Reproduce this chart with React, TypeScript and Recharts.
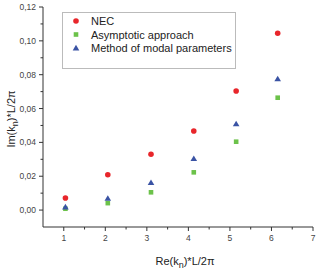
import React from 'react';
import { ScatterChart, Scatter, XAxis, YAxis } from 'recharts';

const reValues = [1.04, 2.06, 3.1, 4.13, 5.15, 6.15];
const necValues = [0.0071, 0.0209, 0.033, 0.0467, 0.0704, 0.1045];
const asymptoticValues = [0.0008, 0.0041, 0.0105, 0.0223, 0.0404, 0.0664];
const modalValues = [0.0018, 0.0069, 0.0162, 0.0304, 0.0509, 0.0775];

const xTicks = [0.5, 1, 1.5, 2, 2.5, 3, 3.5, 4, 4.5, 5, 5.5, 6, 6.5, 7];
const yTicks = [-0.01, 0, 0.01, 0.02, 0.03, 0.04, 0.05, 0.06, 0.07, 0.08, 0.09, 0.1, 0.11, 0.12];

const RED = '#e8262b';
const GREEN = '#6cc24a';
const BLUE = '#3a53a4';
const FONT = '"Liberation Sans", Arial, sans-serif';

const toPoints = (ys: number[]) => reValues.map((x, i) => ({ x, y: ys[i] }));

const Circle = (p: any) => <circle cx={p.cx} cy={p.cy} r={2.8} fill={RED} />;
const Square = (p: any) => <rect x={p.cx - 2.3} y={p.cy - 2.3} width={4.6} height={4.6} fill={GREEN} />;
const Triangle = (p: any) => (
  <polygon points={`${p.cx},${p.cy - 3.2} ${p.cx + 3.3},${p.cy + 2.4} ${p.cx - 3.3},${p.cy + 2.4}`} fill={BLUE} />
);

const XTick = (props: any) => {
  const { x, y, payload } = props;
  const v = payload.value;
  const major = Math.abs(v - Math.round(v)) < 1e-6;
  if (v === 0.5) return <g />;
  return (
    <g>
      <line x1={x} x2={x} y1={y} y2={y + (major ? 4 : 2.5)} stroke="#333" strokeWidth={1} />
      {major && (
        <text x={x} y={y + 14} textAnchor="middle" fontSize={8.5} fill="#444" fontFamily={FONT}>
          {v}
        </text>
      )}
    </g>
  );
};

const YTick = (props: any) => {
  const { x, y, payload } = props;
  const v = payload.value;
  const k = Math.round(v * 100);
  if (k < 0) return <g />;
  const major = k % 2 === 0;
  return (
    <g>
      <line x1={x} x2={x - (major ? 4 : 2.5)} y1={y} y2={y} stroke="#333" strokeWidth={1} />
      {major && (
        <text x={x - 7} y={y + 3} textAnchor="end" fontSize={8.5} fill="#444" fontFamily={FONT}>
          {v.toFixed(2).replace('.', ',')}
        </text>
      )}
    </g>
  );
};

const legendItems = [
  { name: 'NEC', shape: 'circle' },
  { name: 'Asymptotic approach', shape: 'square' },
  { name: 'Method of modal parameters', shape: 'triangle' },
];

const Overlay = () => (
  <svg width={320} height={274} style={{ position: 'absolute', left: 0, top: 0, pointerEvents: 'none' }}>
    <rect x={62.5} y={12.5} width={173} height={56} fill="#fff" stroke="#bbb" strokeWidth={1} />
    {legendItems.map((it, i) => {
      const cy = 21 + i * 13.5;
      const cx = 76;
      return (
        <g key={it.name}>
          {it.shape === 'circle' && <Circle cx={cx} cy={cy} />}
          {it.shape === 'square' && <Square cx={cx} cy={cy} />}
          {it.shape === 'triangle' && <Triangle cx={cx} cy={cy} />}
          <text x={91} y={cy + 4} fontSize={11} fill="#222" fontFamily={FONT}>
            {it.name}
          </text>
        </g>
      );
    })}
    <text x={185} y={265} textAnchor="middle" fontSize={11} fill="#222" fontFamily={FONT}>
      Re(k<tspan dy={3} fontSize={9}>n</tspan><tspan dy={-3}>)*L/2π</tspan>
    </text>
    <text x={15} y={119} transform="rotate(-90 15 119)" textAnchor="middle" fontSize={11} fill="#222" fontFamily={FONT}>
      Im(k<tspan dy={3} fontSize={9}>n</tspan><tspan dy={-3}>)*L/2π</tspan>
    </text>
  </svg>
);

export default function App() {
  return (
    <div style={{ position: 'absolute', left: 0, top: 0, width: 320, height: 274, background: '#fff' }}>
      <ScatterChart width={320} height={274} margin={{ top: 7, right: 7, bottom: 0, left: 0 }}>
        <XAxis
          type="number"
          dataKey="x"
          domain={[0.5, 7]}
          ticks={xTicks}
          interval={0}
          tick={<XTick />}
          tickSize={0}
          tickMargin={0}
          height={47}
          stroke="#333"
          allowDataOverflow
        />
        <YAxis
          type="number"
          dataKey="y"
          domain={[-0.01, 0.12]}
          ticks={yTicks}
          interval={0}
          tick={<YTick />}
          tickSize={0}
          tickMargin={0}
          width={43}
          stroke="#333"
          allowDataOverflow
        />
        <Scatter name="NEC" data={toPoints(necValues)} shape={<Circle />} isAnimationActive={false} />
        <Scatter name="Asymptotic approach" data={toPoints(asymptoticValues)} shape={<Square />} isAnimationActive={false} />
        <Scatter name="Method of modal parameters" data={toPoints(modalValues)} shape={<Triangle />} isAnimationActive={false} />
      </ScatterChart>
      <Overlay />
    </div>
  );
}
